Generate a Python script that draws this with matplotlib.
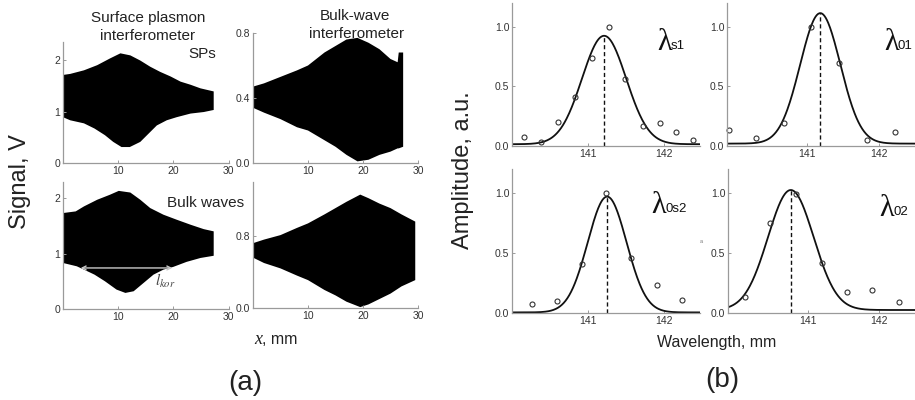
import numpy as np
import matplotlib.pyplot as plt

plt.rcParams['font.family'] = ['Liberation Sans', 'DejaVu Sans']
plt.rcParams['mathtext.fontset'] = 'stix'

# (a) signal envelopes, x in mm, signal in V
sp_x = [0, 1.3, 3.8, 6.2, 8.5, 10.4, 12.2, 14, 15.8, 17.6, 19.5, 21.3, 23.1, 24.9, 26.1, 27.3]
sp_hi = [1.71, 1.73, 1.8, 1.9, 2.03, 2.13, 2.09, 1.99, 1.87, 1.77, 1.68, 1.58, 1.52, 1.45, 1.42, 1.39]
sp_lo_x = [0, 1.3, 3.8, 5.7, 7.6, 9.1, 10.6, 12.1, 14, 15.5, 17, 18.8, 20.6, 23.1, 25.5, 27.3]
sp_lo = [0.89, 0.83, 0.77, 0.67, 0.54, 0.41, 0.31, 0.31, 0.41, 0.57, 0.73, 0.83, 0.89, 0.96, 0.99, 1.03]

bw_x = [0, 2, 5, 8, 10, 13, 15, 17, 19, 21, 23, 25, 26.3, 26.5, 27.3]
bw_hi = [0.47, 0.49, 0.53, 0.57, 0.6, 0.68, 0.72, 0.76, 0.77, 0.74, 0.7, 0.64, 0.62, 0.68, 0.68]
bw_lo = [0.34, 0.31, 0.27, 0.22, 0.2, 0.14, 0.1, 0.05, 0.01, 0.02, 0.05, 0.07, 0.09, 0.09, 0.1]

sb_x = [0, 2.3, 3.8, 6.2, 8.5, 10.1, 12.2, 14, 15.8, 18.2, 20.6, 23.1, 25.5, 27.3]
sb_hi = [1.73, 1.76, 1.85, 1.97, 2.06, 2.13, 2.1, 1.97, 1.82, 1.7, 1.61, 1.52, 1.44, 1.4]
sb_lo_x = [0, 2.5, 3.8, 5.7, 7.6, 9.7, 11.3, 12.8, 14.6, 16.4, 18.2, 20, 22.4, 24.9, 27.3]
sb_lo = [0.83, 0.77, 0.71, 0.62, 0.5, 0.35, 0.29, 0.32, 0.47, 0.62, 0.71, 0.76, 0.85, 0.92, 0.96]

bb_x = [0, 2, 5, 8, 10, 13, 15, 17, 19.5, 21, 23, 25, 27, 29.5]
bb_hi = [0.72, 0.76, 0.81, 0.89, 0.94, 1.04, 1.11, 1.18, 1.26, 1.22, 1.16, 1.11, 1.04, 0.96]
bb_lo = [0.56, 0.5, 0.44, 0.36, 0.31, 0.2, 0.14, 0.07, 0.01, 0.04, 0.1, 0.16, 0.24, 0.31]

lkor_start, lkor_end, lkor_level = 3.2, 19.8, 0.74

# (b) measured amplitudes and gaussian fits (center, amplitude, sigma, offset)
s1_wl = [140.16, 140.38, 140.6, 140.83, 141.05, 141.27, 141.49, 141.72, 141.94, 142.16, 142.38]
s1_amp = [0.073, 0.03, 0.2, 0.41, 0.74, 1.0, 0.56, 0.17, 0.19, 0.12, 0.05]
s1_fit = (141.21, 0.91, 0.29, 0.015)

o1_wl = [139.91, 140.29, 140.67, 141.05, 141.44, 141.83, 142.22]
o1_amp = [0.134, 0.065, 0.196, 1.0, 0.70, 0.05, 0.12]
o1_fit = (141.18, 1.095, 0.28, 0.02)

os2_wl = [140.26, 140.59, 140.92, 141.24, 141.57, 141.9, 142.23]
os2_amp = [0.072, 0.10, 0.41, 1.0, 0.456, 0.23, 0.106]
os2_fit = (141.25, 0.965, 0.255, 0.005)

o2_wl = [140.12, 140.47, 140.83, 141.19, 141.55, 141.9, 142.27]
o2_amp = [0.137, 0.75, 0.99, 0.42, 0.175, 0.19, 0.095]
o2_fit = (140.76, 1.0, 0.32, 0.025)

W, H = 915, 400
fig = plt.figure(figsize=(9.15, 4.0), dpi=100)


def box(l, r, t, b):
    return fig.add_axes([l / W, 1 - b / H, (r - l) / W, (b - t) / H])


def put(x, y, s, **kw):
    fig.text(x / W, 1 - y / H, s, **kw)


def style(ax):
    for side in ['top', 'right']:
        ax.spines[side].set_visible(False)
    for side in ['left', 'bottom']:
        ax.spines[side].set_color('#9a9a9a')
        ax.spines[side].set_linewidth(0.9)
    ax.tick_params(direction='in', length=2.5, width=0.7, color='#9a9a9a',
                   labelsize=7.5, labelcolor='#333333', pad=2)
    ax.patch.set_alpha(0)


def envelope(ax, xh, hi, xl, lo):
    # closed outline: upper edge left->right, lower edge right->left
    ax.fill(list(xh) + list(xl)[::-1], list(hi) + list(lo)[::-1],
            color='black', lw=0)


# ---- (a) ----
panels_a = [
    ((63, 228.6, 42, 163), (sp_x, sp_hi, sp_lo_x, sp_lo), 2.35, [0, 1, 2], ['0', '1', '2']),
    ((253, 418, 33, 163), (bw_x, bw_hi, bw_x, bw_lo), 0.8, [0, 0.4, 0.8], ['0.0', '0.4', '0.8']),
    ((63, 228.6, 182, 309), (sb_x, sb_hi, sb_lo_x, sb_lo), 2.29, [0, 1, 2], ['0', '1', '2']),
    ((253, 418, 182, 308), (bb_x, bb_hi, bb_x, bb_lo), 1.4, [0, 0.8], ['0.0', '0.8']),
]
axes_a = []
for pos, env, top, yt, ytl in panels_a:
    ax = box(*pos)
    envelope(ax, *env)
    ax.set_xlim(0, 30)
    ax.set_ylim(0, top)
    ax.set_xticks([10, 20, 30])
    ax.set_yticks(yt)
    ax.set_yticklabels(ytl)
    style(ax)
    axes_a.append(ax)

axes_a[2].annotate('', xy=(lkor_start, lkor_level), xytext=(lkor_end, lkor_level),
                   arrowprops=dict(arrowstyle='<->', color='#c8c8c8', lw=1.0,
                                   shrinkA=0, shrinkB=0, mutation_scale=7))
axes_a[2].text(16.6, 0.42, r'$l_{kor}$', fontsize=11, color='#444444')

put(148, 22, 'Surface plasmon', ha='center', va='baseline', fontsize=11, color='#222222')
put(148, 40, 'interferometer', ha='center', va='baseline', fontsize=11, color='#222222')
put(355, 20, 'Bulk-wave', ha='center', va='baseline', fontsize=11, color='#222222')
put(357, 38, 'interferometer', ha='center', va='baseline', fontsize=11, color='#222222')
put(202, 58, 'SPs', ha='center', va='baseline', fontsize=11, color='#222222')
put(206, 207, 'Bulk waves', ha='center', va='baseline', fontsize=11, color='#222222')

put(20, 182, 'Signal, V', ha='center', va='center', rotation=90, fontsize=17, color='#222222')
put(262, 344, 'x', ha='right', va='baseline', fontsize=13, color='#222222',
    family=['Liberation Serif', 'DejaVu Serif'], style='italic')
put(262, 344, ', mm', ha='left', va='baseline', fontsize=11.5, color='#222222')
put(245, 383, '(a)', ha='center', va='center', fontsize=20, color='#222222')

# ---- (b) ----
panels_b = [
    ((512, 700, 3, 146), (140.0, 142.47), s1_wl, s1_amp, s1_fit),
    ((727, 915, 3, 146), (139.88, 142.5), o1_wl, o1_amp, o1_fit),
    ((512, 700, 169, 313), (140.0, 142.47), os2_wl, os2_amp, os2_fit),
    ((728, 915, 169, 313), (139.88, 142.5), o2_wl, o2_amp, o2_fit),
]
for pos, xl, wl, amp, fit in panels_b:
    ax = box(*pos)
    c, a, s, off = fit
    xs = np.linspace(xl[0], xl[1], 300)
    ax.plot(xs, off + a * np.exp(-(xs - c) ** 2 / (2 * s ** 2)), color='#111111', lw=1.3)
    ax.plot([c, c], [0, off + a], color='#111111', lw=1.0, ls=(0, (3, 2)))
    ax.plot(wl, amp, 'o', mfc='none', mec='#333333', ms=3.6, mew=0.8, clip_on=False)
    ax.set_xlim(*xl)
    ax.set_ylim(0, 1.2)
    ax.set_xticks([141, 142])
    ax.set_yticks([0, 0.5, 1.0])
    ax.set_yticklabels(['0.0', '0.5', '1.0'])
    style(ax)

serif = ['Liberation Serif', 'DejaVu Serif']
for lx, ly, sub in [(657, 50, 's1'), (884, 50, '01'), (651, 213, '0s2'), (879, 216, '02')]:
    put(lx, ly, 'λ', ha='left', va='baseline', fontsize=22, color='#111111', family=serif)
    put(lx + 14, ly - 1, sub, ha='left', va='baseline', fontsize=9.5, color='#111111')

put(701, 243, 'a', ha='center', va='baseline', fontsize=4, color='#777777')
put(463, 170, 'Amplitude, a.u.', ha='center', va='center', rotation=90, fontsize=17, color='#222222')
put(717, 343, 'Wavelength, mm', ha='center', va='center', fontsize=11.5, color='#222222')
put(722, 380, '(b)', ha='center', va='center', fontsize=20, color='#222222')

fig.savefig('out.png', dpi=100)
